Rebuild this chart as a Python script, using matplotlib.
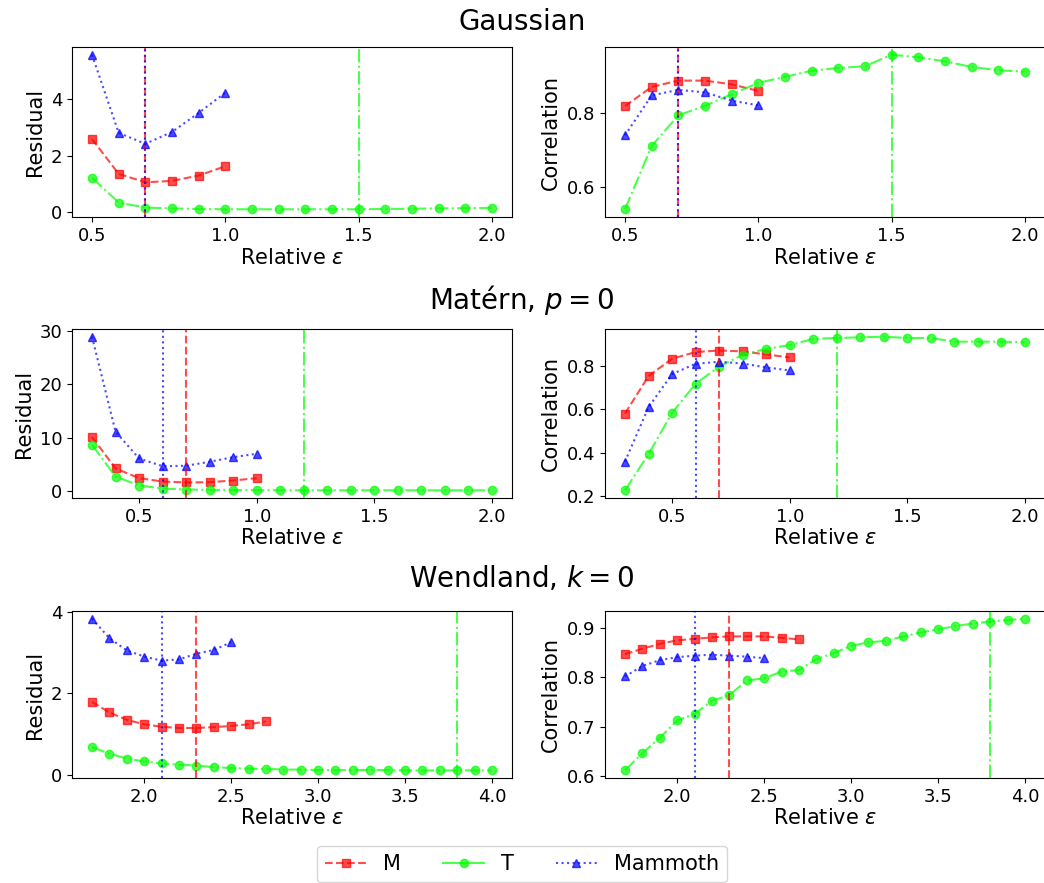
import matplotlib
matplotlib.use("Agg")
import matplotlib.pyplot as plt
from matplotlib.lines import Line2D
from matplotlib.ticker import MultipleLocator

# ---- data -------------------------------------------------------------
# Gaussian kernel
gauss_eps_short = [0.5, 0.6, 0.7, 0.8, 0.9, 1.0]
gauss_eps_long = [0.5, 0.6, 0.7, 0.8, 0.9, 1.0, 1.1, 1.2, 1.3, 1.4, 1.5,
                  1.6, 1.7, 1.8, 1.9, 2.0]
gauss_res_M = [2.59, 1.35, 1.05, 1.10, 1.29, 1.62]
gauss_res_mammoth = [5.59, 2.81, 2.42, 2.84, 3.52, 4.24]
gauss_res_T = [1.21, 0.33, 0.15, 0.12, 0.10, 0.09, 0.09, 0.09, 0.09, 0.09,
               0.09, 0.10, 0.11, 0.12, 0.13, 0.14]
gauss_cor_M = [0.818, 0.870, 0.887, 0.887, 0.877, 0.859]
gauss_cor_mammoth = [0.739, 0.847, 0.862, 0.855, 0.833, 0.820]
gauss_cor_T = [0.539, 0.710, 0.793, 0.819, 0.850, 0.881, 0.897, 0.914,
               0.921, 0.926, 0.957, 0.950, 0.939, 0.924, 0.915, 0.911]
gauss_best = {"M": 0.7, "T": 1.5, "Mammoth": 0.7}

# Matern kernel, p = 0
matern_eps_short = [0.3, 0.4, 0.5, 0.6, 0.7, 0.8, 0.9, 1.0]
matern_eps_long = [0.3, 0.4, 0.5, 0.6, 0.7, 0.8, 0.9, 1.0, 1.1, 1.2, 1.3,
                   1.4, 1.5, 1.6, 1.7, 1.8, 1.9, 2.0]
matern_res_M = [10.08, 4.2, 2.38, 1.75, 1.57, 1.63, 1.94, 2.38]
matern_res_mammoth = [28.9, 11.1, 6.07, 4.63, 4.70, 5.45, 6.32, 6.95]
matern_res_T = [8.64, 2.69, 1.00, 0.44, 0.25, 0.18, 0.14, 0.12, 0.11, 0.10,
                0.10, 0.10, 0.10, 0.10, 0.10, 0.10, 0.10, 0.10]
matern_cor_M = [0.581, 0.754, 0.834, 0.865, 0.872, 0.868, 0.854, 0.840]
matern_cor_mammoth = [0.359, 0.610, 0.763, 0.811, 0.820, 0.812, 0.794, 0.780]
matern_cor_T = [0.226, 0.393, 0.584, 0.718, 0.798, 0.852, 0.880, 0.897,
                0.926, 0.930, 0.933, 0.936, 0.930, 0.930, 0.913, 0.913,
                0.913, 0.910]
matern_best = {"M": 0.7, "T": 1.2, "Mammoth": 0.6}

# Wendland kernel, k = 0
wend_eps_M = [1.7, 1.8, 1.9, 2.0, 2.1, 2.2, 2.3, 2.4, 2.5, 2.6, 2.7]
wend_eps_mammoth = [1.7, 1.8, 1.9, 2.0, 2.1, 2.2, 2.3, 2.4, 2.5]
wend_eps_T = [1.7, 1.8, 1.9, 2.0, 2.1, 2.2, 2.3, 2.4, 2.5, 2.6, 2.7, 2.8,
              2.9, 3.0, 3.1, 3.2, 3.3, 3.4, 3.5, 3.6, 3.7, 3.8, 3.9, 4.0]
wend_res_M = [1.79, 1.53, 1.35, 1.24, 1.18, 1.15, 1.15, 1.17, 1.20, 1.24, 1.31]
wend_res_mammoth = [3.83, 3.35, 3.05, 2.90, 2.80, 2.83, 2.97, 3.06, 3.25]
wend_res_T = [0.68, 0.52, 0.40, 0.33, 0.28, 0.25, 0.23, 0.19, 0.17, 0.15,
              0.15, 0.13, 0.13, 0.12, 0.12, 0.12, 0.12, 0.12, 0.11, 0.11,
              0.11, 0.11, 0.11, 0.11]
wend_cor_M = [0.847, 0.858, 0.868, 0.875, 0.878, 0.881, 0.883, 0.883, 0.883,
              0.880, 0.877]
wend_cor_mammoth = [0.802, 0.823, 0.835, 0.841, 0.844, 0.846, 0.844, 0.842,
                    0.839]
wend_cor_T = [0.612, 0.647, 0.678, 0.713, 0.726, 0.753, 0.764, 0.794, 0.798,
              0.812, 0.815, 0.837, 0.849, 0.864, 0.871, 0.874, 0.883, 0.891,
              0.897, 0.904, 0.909, 0.913, 0.916, 0.919]
wend_best = {"M": 2.3, "T": 3.8, "Mammoth": 2.1}

row_titles = ["Gaussian", r"Matérn, $p=0$", r"Wendland, $k=0$"]
method_names = ["M", "T", "Mammoth"]

# ---- styling ----------------------------------------------------------
styles = {
    "M": dict(color="red", ls="--", marker="s"),
    "T": dict(color="lime", ls="-.", marker="o"),
    "Mammoth": dict(color="blue", ls=":", marker="^"),
}
ALPHA = 0.7

plt.rcParams["font.family"] = "DejaVu Sans"
plt.rcParams["xtick.labelsize"] = 13
plt.rcParams["ytick.labelsize"] = 13
plt.rcParams["axes.labelsize"] = 15

fig = plt.figure(figsize=(10.44, 8.83), dpi=100)

W, H = 1044.0, 883.0
ax_w = 440 / W
col_left = [72 / W, 605 / W]
row_boxes = [(47, 217), (329, 498), (611, 778)]
title_y = [22, 300, 578]

rows = [
    dict(x={"M": gauss_eps_short, "T": gauss_eps_long, "Mammoth": gauss_eps_short},
         res={"M": gauss_res_M, "T": gauss_res_T, "Mammoth": gauss_res_mammoth},
         cor={"M": gauss_cor_M, "T": gauss_cor_T, "Mammoth": gauss_cor_mammoth},
         best=gauss_best),
    dict(x={"M": matern_eps_short, "T": matern_eps_long, "Mammoth": matern_eps_short},
         res={"M": matern_res_M, "T": matern_res_T, "Mammoth": matern_res_mammoth},
         cor={"M": matern_cor_M, "T": matern_cor_T, "Mammoth": matern_cor_mammoth},
         best=matern_best),
    dict(x={"M": wend_eps_M, "T": wend_eps_T, "Mammoth": wend_eps_mammoth},
         res={"M": wend_res_M, "T": wend_res_T, "Mammoth": wend_res_mammoth},
         cor={"M": wend_cor_M, "T": wend_cor_T, "Mammoth": wend_cor_mammoth},
         best=wend_best),
]

for r, row in enumerate(rows):
    top, bot = row_boxes[r]
    bottom = 1 - bot / H
    height = (bot - top) / H
    for c, (key, ylabel) in enumerate([("res", "Residual"), ("cor", "Correlation")]):
        ax = fig.add_axes([col_left[c], bottom, ax_w, height])
        for name in method_names:
            st = styles[name]
            ax.plot(row["x"][name], row[key][name], color=st["color"],
                    ls=st["ls"], marker=st["marker"], ms=6, lw=1.5,
                    alpha=ALPHA, label=name)
        for name in method_names:
            st = styles[name]
            ax.axvline(row["best"][name], color=st["color"], ls=st["ls"],
                       lw=1.5, alpha=ALPHA)
        ax.xaxis.set_major_locator(MultipleLocator(0.5))
        ax.set_xlabel(r"Relative $\varepsilon$", labelpad=2)
        ax.set_ylabel(ylabel)
    fig.text(0.5, 1 - title_y[r] / H, row_titles[r], ha="center", va="center",
             fontsize=20)

handles = [Line2D([], [], color=styles[n]["color"], marker=styles[n]["marker"],
                  ls=("-" if n == "T" else styles[n]["ls"]), lw=1.5, ms=6,
                  alpha=ALPHA) for n in method_names]
fig.legend(handles, method_names, loc="center", ncol=3,
           bbox_to_anchor=(0.5, 1 - 864 / H), fontsize=15, columnspacing=2.0,
           handlelength=2.0)

fig.savefig("out.png", dpi=100)
